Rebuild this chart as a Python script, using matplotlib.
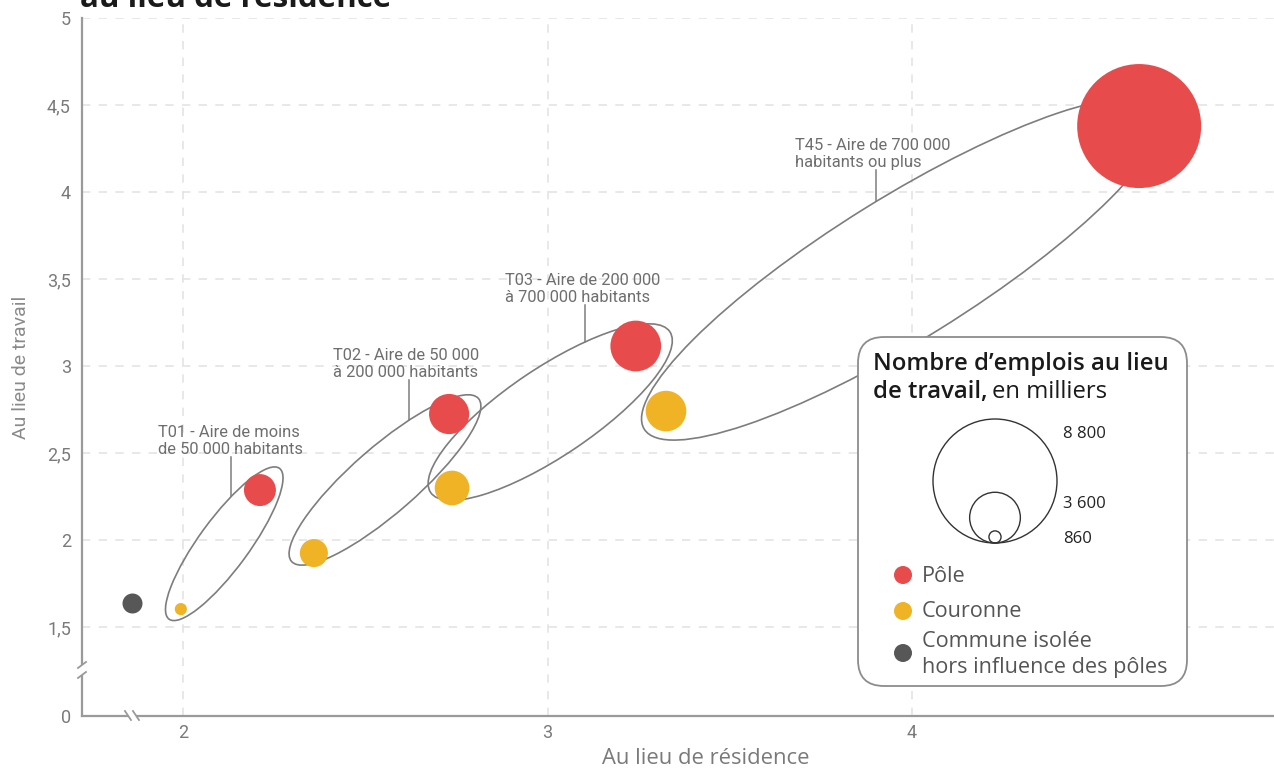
import numpy as np
import matplotlib
matplotlib.use("Agg")
import matplotlib.pyplot as plt
from matplotlib.patches import Ellipse, FancyBboxPatch, Circle, Rectangle

# ---------------- data ----------------
group_labels = ["T01 - Aire de moins\nde 50 000 habitants",
                "T02 - Aire de 50 000\nà 200 000 habitants",
                "T03 - Aire de 200 000\nà 700 000 habitants",
                "T45 - Aire de 700 000\nhabitants ou plus"]
pole_x = [2.211, 2.730, 3.242, 4.623]
pole_y = [2.287, 2.724, 3.115, 4.379]
pole_emp = [2270, 2850, 3600, 8800]
cour_x = [1.994, 2.359, 2.738, 3.325]
cour_y = [1.603, 1.925, 2.299, 2.741]
cour_emp = [860, 1990, 2460, 2880]
iso_x = [1.859]
iso_y = [1.638]
iso_emp = [1420]
legend_sizes = [8800, 3600, 860]
legend_size_labels = ["8 800", "3 600", "860"]
x_ticks = [2, 3, 4, 5]
x_ticklabels = ["2", "3", "4", ""]
y_ticks_values = [1.5, 2, 2.5, 3, 3.5, 4, 4.5, 5]
y_ticklabels = ["1,5", "2", "2,5", "3", "3,5", "4", "4,5", "5"]

# ---------------- style ----------------
RED = "#E84B4C"
YEL = "#EFB325"
DARK = "#575757"
GRID = "#e4e4e4"
AXC = "#9a9a9a"
TXT = "#7a7a7a"
ELC = "#7d7d7d"
ANN_FONT = ["Roboto", "DejaVu Sans"]
LEG_FONT = ["Open Sans", "DejaVu Sans"]

W, H = 1274, 769
PX_PER_UNIT = 62 / 8800.0      # bubble radius (px) per thousand jobs

def rad_px(v):
    return v * PX_PER_UNIT

def s_from(v):
    d_pt = 2 * rad_px(np.asarray(v, dtype=float)) * 72 / 100
    return d_pt ** 2

fig = plt.figure(figsize=(W / 100, H / 100), dpi=100)
ax = fig.add_axes([82 / W, (H - 716) / H, (1276.6 - 82) / W, 698 / H])
ymin = 0.9885
ax.set_xlim(1.7229, 5.0)
ax.set_ylim(ymin, 5.0)
ax.set_autoscale_on(False)

# overlay in pixel coordinates (y downward)
ov = fig.add_axes([0, 0, 1, 1])
ov.set_xlim(0, W)
ov.set_ylim(H, 0)
ov.axis("off")
ov.patch.set_alpha(0)

# axes styling
for s in ["top", "right"]:
    ax.spines[s].set_visible(False)
for s in ["left", "bottom"]:
    ax.spines[s].set_color(AXC)
    ax.spines[s].set_linewidth(1.6)
ax.set_xticks(x_ticks)
ax.set_xticklabels(x_ticklabels)
ax.set_yticks([ymin] + y_ticks_values)
ax.set_yticklabels(["0"] + y_ticklabels)
ax.tick_params(length=0, colors=TXT, labelsize=13)
ax.tick_params(axis="y", pad=8)
ax.tick_params(axis="x", pad=6)
for lab in ax.get_xticklabels() + ax.get_yticklabels():
    lab.set_family(ANN_FONT)
ax.grid(True, color=GRID, lw=1.2, linestyle=(0, (5, 5)), zorder=0)
ax.set_axisbelow(True)

ax.set_xlabel("Au lieu de résidence", family=LEG_FONT, fontsize=15.8,
              color=TXT, labelpad=4)
ax.xaxis.label.set_x((706 - 82) / (1276.6 - 82))
ax.set_ylabel("Au lieu de travail", family=ANN_FONT, fontsize=14,
              color="#8a8a8a", labelpad=12)

# ---------------- bubbles ----------------
ax.scatter(iso_x, iso_y, s=s_from(iso_emp), color=DARK, lw=0, zorder=4)
ax.scatter(cour_x, cour_y, s=s_from(cour_emp), color=YEL, lw=0, zorder=4)
ax.scatter(pole_x, pole_y, s=s_from(pole_emp), color=RED, lw=0, zorder=4)

# ---------------- ellipses (layout params, px) ----------------
ell_dA = [15, 22, 20, 28]
ell_dB = [29, 32, 36, 26]
ell_delta = [2.6, 4.7, 3.8, -0.8]
ell_b = [25, 33, 44, 71]
leader_x = [2.132, 2.620, 3.103, 3.901]
label_pos = [(1.931, 2.477), (2.4115, 2.9195), (2.8834, 3.3506), (3.679, 4.1264)]

def to_px(x, y):
    d = ax.transData.transform([[x, y]])
    return ov.transData.inverted().transform(d)[0]

for i in range(4):
    A = to_px(cour_x[i], cour_y[i])
    B = to_px(pole_x[i], pole_y[i])
    u = (B - A) / np.linalg.norm(B - A)
    tA = A - u * ell_dA[i]
    tB = B + u * ell_dB[i]
    c = (tA + tB) / 2
    a = np.linalg.norm(tB - tA) / 2
    ang = np.degrees(np.arctan2(u[1], u[0])) + ell_delta[i]
    e = Ellipse(c, 2 * a, 2 * ell_b[i], angle=ang, fill=False, ec=ELC,
                lw=1.2, transform=ov.transData, zorder=3, clip_on=False)
    ax.add_patch(e)
    # leader: top edge of ellipse at leader x
    t = np.linspace(0, 2 * np.pi, 4000)
    th = np.radians(ang)
    ex = c[0] + a * np.cos(t) * np.cos(th) - ell_b[i] * np.sin(t) * np.sin(th)
    ey = c[1] + a * np.cos(t) * np.sin(th) + ell_b[i] * np.sin(t) * np.cos(th)
    lx = to_px(leader_x[i], 3)[0]
    sel = np.abs(ex - lx) < 1.0
    y_edge = ey[sel].min()
    ly_top = to_px(leader_x[i], label_pos[i][1])[1]
    ov.plot([lx, lx], [ly_top, y_edge], color=ELC, lw=1.1, zorder=2)
    ax.text(label_pos[i][0], label_pos[i][1], group_labels[i], ha="left",
            va="bottom", family=ANN_FONT, fontsize=11.9, color="#6e6e6e",
            linespacing=1.2, zorder=5)

# ---------------- axis breaks ----------------
yb = to_px(1.7229, 1.253)
ov.add_patch(Rectangle((yb[0] - 4, yb[1] - 5), 8, 10, fc="white", ec="none", zorder=6))
for dy in (-5, 5):
    ov.plot([yb[0] - 4, yb[0] + 4], [yb[1] + dy + 3, yb[1] + dy - 3], color=AXC, lw=1.3, zorder=7)
xb = to_px(1.86, ymin)
ov.add_patch(Rectangle((xb[0] - 4, xb[1] - 4), 8, 8, fc="white", ec="none", zorder=6))
for dx in (-4, 4):
    ov.plot([xb[0] + dx - 3, xb[0] + dx + 3], [xb[1] - 5, xb[1] + 4], color=AXC, lw=1.3, zorder=7)

# ---------------- legend box ----------------
box = FancyBboxPatch((858, 337), 329, 349, boxstyle="round,pad=0,rounding_size=26",
                     fc="white", ec="#8c8c8c", lw=1.3, zorder=10)
ov.add_patch(box)
ov.text(873, 370, "Nombre d’emplois au lieu", family=LEG_FONT, fontsize=17.2,
        fontweight="semibold", color="#1a1a1a", va="baseline", ha="left", zorder=11)
t1 = ov.text(873, 398, "de travail,", family=LEG_FONT, fontsize=17.2,
             fontweight="semibold", color="#1a1a1a", va="baseline", ha="left", zorder=11)
fig.canvas.draw()
bb = t1.get_window_extent(renderer=fig.canvas.get_renderer())
x_end = ov.transData.inverted().transform([[bb.x1, bb.y0]])[0][0]
ov.text(x_end + 5, 398, "en milliers", family=LEG_FONT, fontsize=17.2,
        color="#1a1a1a", va="baseline", ha="left", zorder=11)

cx, base_y = 995, 543
lab_y = [438, 508, 543]
for v, lab, ly in zip(legend_sizes, legend_size_labels, lab_y):
    r = rad_px(v)
    ov.add_patch(Circle((cx, base_y - r), r, fill=False, ec="#333333", lw=1.0, zorder=11))
    ov.text(1063, ly, lab, family=LEG_FONT, fontsize=12, color="#222222",
            va="baseline", ha="left", zorder=11)

entries = [(RED, 575, [("Pôle", 582)]),
           (YEL, 611, [("Couronne", 617)]),
           (DARK, 653, [("Commune isolée", 647), ("hors influence des pôles", 673)])]
for col, dy, lines in entries:
    ov.add_patch(Circle((903, dy), 9, fc=col, ec="none", zorder=11))
    for txt, by in lines:
        ov.text(922, by, txt, family=LEG_FONT, fontsize=15.6, color="#555555",
                va="baseline", ha="left", zorder=11)

# clipped title line at top (continuation of a title above the crop)
fig.text(80 / W, 1 - 7 / H, "au lieu de résidence", family=LEG_FONT,
         fontsize=22.5, fontweight="bold", color="#1a1a1a", va="baseline", ha="left")

fig.savefig("out.png", dpi=100)
